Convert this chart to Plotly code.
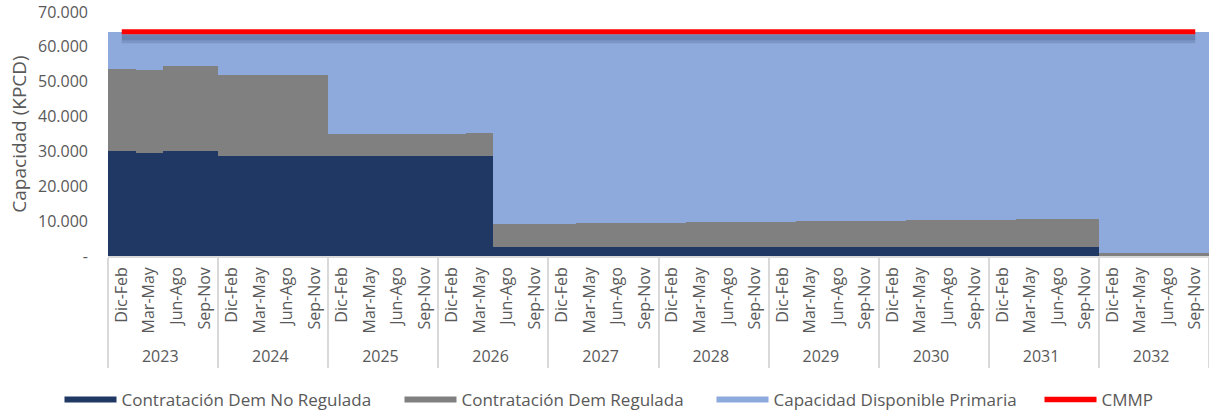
import plotly.graph_objects as go

years = ["2023", "2024", "2025", "2026", "2027", "2028", "2029", "2030", "2031", "2032"]
seasons = ["Dic-Feb", "Mar-May", "Jun-Ago", "Sep-Nov"]

# KPCD per quarter (Dic-Feb, Mar-May, Jun-Ago, Sep-Nov) for each year
no_regulada = [
    30000, 29450, 30000, 30000,   # 2023
    28600, 28600, 28600, 28600,   # 2024
    28600, 28600, 28600, 28600,   # 2025
    28600, 28600, 2500, 2500,     # 2026
    2500, 2500, 2500, 2500,       # 2027
    2500, 2700, 2700, 2700,       # 2028
    2700, 2700, 2700, 2700,       # 2029
    2700, 2700, 2700, 2700,       # 2030
    2700, 2700, 2700, 2700,       # 2031
    0, 0, 0, 0,                   # 2032
]
regulada = [
    23700, 23800, 24400, 24400,   # 2023
    23200, 23200, 23200, 23200,   # 2024
    6400, 6400, 6400, 6400,       # 2025
    6400, 6600, 6800, 6800,       # 2026
    6800, 7000, 7000, 7000,       # 2027
    7000, 7100, 7100, 7100,       # 2028
    7100, 7200, 7200, 7200,       # 2029
    7200, 7500, 7500, 7500,       # 2030
    7500, 7800, 7800, 7800,       # 2031
    1000, 1000, 1000, 1000,       # 2032
]
disponible = [
    10600, 11050, 9900, 9900,     # 2023
    12500, 12500, 12500, 12500,   # 2024
    29300, 29300, 29300, 29300,   # 2025
    29300, 29100, 55000, 55000,   # 2026
    55000, 54800, 54800, 54800,   # 2027
    54800, 54500, 54500, 54500,   # 2028
    54500, 54400, 54400, 54400,   # 2029
    54400, 54100, 54100, 54100,   # 2030
    54100, 53800, 53800, 53800,   # 2031
    63300, 63300, 63300, 63300,   # 2032
]
cmmp = [
    64300, 64300, 64300, 64300,
    64300, 64300, 64300, 64300,
    64300, 64300, 64300, 64300,
    64300, 64300, 64300, 64300,
    64300, 64300, 64300, 64300,
    64300, 64300, 64300, 64300,
    64300, 64300, 64300, 64300,
    64300, 64300, 64300, 64300,
    64300, 64300, 64300, 64300,
    64300, 64300, 64300, 64300,
]
y_tickvals = [0, 10000, 20000, 30000, 40000, 50000, 60000, 70000]
y_ticktext = ["-", "10.000", "20.000", "30.000", "40.000", "50.000", "60.000", "70.000"]

x_cat = [[y for y in years for s in seasons], [s for y in years for s in seasons]]

C_NAVY = "#203864"
C_GRAY = "#808080"
C_BLUE = "#8EA9DB"
C_RED = "#FF0000"
TXT = "#595959"
FONT = "Open Sans"

# plot geometry (pixels) used for styling the legend and the line shadow
PLOT_L, PLOT_T, PLOT_B = 108, 12, 154
FIG_W, FIG_H = 1209, 410
plot_w = FIG_W - PLOT_L
plot_h = FIG_H - PLOT_T - PLOT_B
px_per_unit = plot_h / 70000.0

fig = go.Figure()
series = [
    ("Contratación Dem No Regulada", no_regulada, C_NAVY),
    ("Contratación Dem Regulada", regulada, C_GRAY),
    ("Capacidad Disponible Primaria", disponible, C_BLUE),
]
for name, vals, col in series:
    fig.add_trace(go.Bar(x=x_cat, y=vals, name=name, marker=dict(color=col, line=dict(width=0)),
                         showlegend=False, legendgroup=name, hoverinfo="x+y+name"))

# soft shadow beneath the CMMP line (offset ~6px downward)
shadow_off = 6 / px_per_unit
fig.add_trace(go.Scatter(x=x_cat, y=[v - shadow_off for v in cmmp], mode="lines",
                         line=dict(color="rgba(50,70,110,0.2)", width=11),
                         showlegend=False, hoverinfo="skip"))
fig.add_trace(go.Scatter(x=x_cat, y=[v - shadow_off for v in cmmp], mode="lines",
                         line=dict(color="rgba(50,70,110,0.22)", width=5),
                         showlegend=False, hoverinfo="skip"))
fig.add_trace(go.Scatter(x=x_cat, y=cmmp, mode="lines", name="CMMP",
                         line=dict(color=C_RED, width=5), showlegend=False, legendgroup="CMMP"))

# legend entries (wide rectangle keys), each in its own positioned legend
legend_items = [
    ("Contratación Dem No Regulada", C_NAVY, 6, 65),
    ("Contratación Dem Regulada", C_GRAY, 6, 405),
    ("Capacidad Disponible Primaria", C_BLUE, 6, 717),
    ("CMMP", C_RED, 5.5, 1045),
]
legend_layout = {}
for i, (name, col, lw, sx) in enumerate(legend_items):
    lid = "legend" if i == 0 else f"legend{i + 1}"
    fig.add_trace(go.Scatter(x=[[years[0]], [seasons[0]]], y=[None], mode="lines", name=name,
                             line=dict(color=col, width=lw), legendgroup=name, legend=lid))
    legend_layout[lid] = dict(orientation="h", x=(sx - 5.5 - PLOT_L) / plot_w, xanchor="left",
                              y=-(400 - (FIG_H - PLOT_B)) / plot_h, yanchor="middle",
                              font=dict(size=17, color=TXT, family=FONT), itemwidth=52,
                              bgcolor="rgba(0,0,0,0)")

fig.update_layout(
    width=FIG_W, height=FIG_H, autosize=False,
    margin=dict(l=PLOT_L, r=0, t=PLOT_T, b=PLOT_B, autoexpand=False),
    paper_bgcolor="white", plot_bgcolor="white",
    barmode="stack", bargap=0,
    separators=",.",
    font=dict(family=FONT, color=TXT, size=14),
    **legend_layout,
)
fig.update_yaxes(range=[0, 70000], tickvals=y_tickvals, ticktext=y_ticktext, automargin=False,
                 showgrid=True, gridcolor="#D0D0D0", griddash="dashdot", gridwidth=1,
                 zeroline=False, showline=False, ticklabelstandoff=19,
                 tickfont=dict(size=16, color=TXT),
                 title=dict(text="Capacidad (KPCD)", font=dict(size=19, color=TXT), standoff=6))
fig.update_xaxes(type="multicategory", tickangle=-90, showdividers=True, automargin=False,
                 dividercolor="#D9D9D9", dividerwidth=1.5, showline=True, linecolor="#D9D9D9",
                 linewidth=1.5, showgrid=False, ticklabelstandoff=3,
                 tickfont=dict(size=16, color=TXT))

fig.write_html("out.html", config={"displayModeBar": False},
               post_script="document.body.style.margin='0';document.body.style.overflow='hidden';")
